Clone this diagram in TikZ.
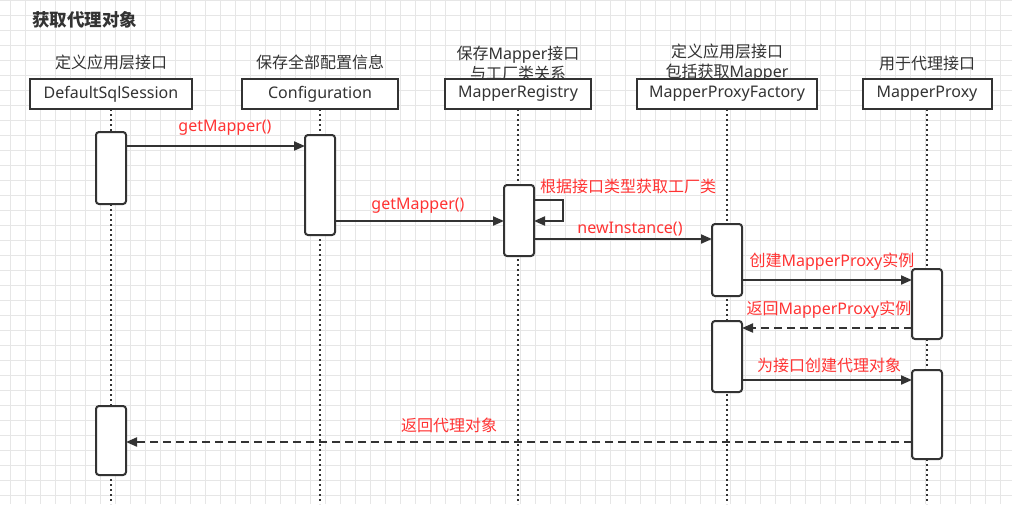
\documentclass[tikz,border=0pt]{standalone}
\usepackage{fontspec}
\setmainfont{Noto Sans}
\newfontfamily\cjk{Noto Sans CJK SC}
\usetikzlibrary{arrows.meta}
\definecolor{ink}{HTML}{333333}
\definecolor{lbl}{HTML}{FF3333}
\definecolor{gridc}{HTML}{E6E6E6}
\newcommand{\zh}[1]{{\cjk #1}}
\begin{document}
\begin{tikzpicture}[x=1pt,y=-1pt,
  every node/.style={inner sep=0pt, outer sep=0pt},
  gridline/.style={gridc, line width=1pt},
  lifeline/.style={ink, line width=1.8pt, dash pattern=on 2.4pt off 2.6pt},
  hdr/.style={draw=ink, line width=2pt, fill=white, minimum height=30pt, text=ink, font=\fontsize{16}{19}\selectfont},
  hlbl/.style={text=ink, font=\fontsize{16}{20}\selectfont, align=center},
  act/.style={draw=ink, line width=2pt, fill=white, rounded corners=3pt, minimum width=30pt},
  msg/.style={ink, line width=2pt, -{Triangle[length=11pt,width=9pt]}},
  ret/.style={msg, dash pattern=on 8pt off 5pt},
  mlbl/.style={text=lbl, font=\fontsize{16}{19}\selectfont},
]
\useasboundingbox (0,0) rectangle (1012,504);
\fill[white] (0,0) rectangle (1012,504);
\foreach \x in {10,25,...,1005} \draw[gridline] (\x,0) -- (\x,504);
\foreach \y in {0,15,...,495} \draw[gridline] (0,\y) -- (1012,\y);

% title
\node[anchor=west, text=ink, font=\cjk\bfseries\fontsize{17.5}{20}\selectfont] (title) at (32,20) {获取代理对象};

% header labels
\node[hlbl] (h1) at (111,62) {\zh{定义应用层接口}};
\node[hlbl] (h2) at (320,62) {\zh{保存全部配置信息}};
\node[hlbl] (h3) at (518,63) {\zh{保存}Mapper\zh{接口}\\\zh{与工厂类关系}};
\node[hlbl] (h4) at (727,62.5) {\zh{定义应用层接口}\\\zh{包括获取}Mapper};
\node[hlbl] (h5) at (927,63) {\zh{用于代理接口}};

% header boxes
\node[hdr, minimum width=162pt] (dss) at (111,94) {DefaultSqlSession};
\node[hdr, minimum width=156pt] (cfg) at (320,94) {Configuration};
\node[hdr, minimum width=146pt] (reg) at (518,94) {MapperRegistry};
\node[hdr, minimum width=180pt] (fac) at (727,94) {MapperProxyFactory};
\node[hdr, minimum width=129pt] (prx) at (927,94) {MapperProxy};

% lifelines
\foreach \n in {dss,cfg,reg,fac,prx}
  \draw[lifeline] (\n.south) -- (\n.south |- 0,504);

% activations
\node[act, minimum height=72pt] (a1) at (111,168) {};
\node[act, minimum height=69pt] (a2) at (111,440.5) {};
\node[act, minimum height=100pt] (c1) at (320,185) {};
\node[act, minimum height=71pt] (r1) at (519,220.5) {};
\node[act, minimum height=72pt] (f1) at (727,260) {};
\node[act, minimum height=71pt] (f2) at (727,356.5) {};
\node[act, minimum height=70pt] (p1) at (927,304) {};
\node[act, minimum height=89pt] (p2) at (927,414.5) {};

% messages
\draw[msg] (a1.east |- 0,146) -- (c1.west |- 0,146);
\draw[msg] (c1.east |- 0,221) -- (r1.west |- 0,221);
\coordinate (loop) at (563,210);
\draw[msg] (r1.east |- 0,200) -- (loop |- 0,200) -- (loop |- 0,221) -- (r1.east |- 0,221);
\draw[msg] (r1.east |- 0,239) -- (f1.west |- 0,239);
\draw[msg] (f1.east |- 0,280) -- (p1.west |- 0,280);
\draw[ret] (p1.west |- 0,328) -- (f2.east |- 0,328);
\draw[msg] (f2.east |- 0,380) -- (p2.west |- 0,380);
\draw[ret] (p2.west |- 0,442) -- (a2.east |- 0,442);

% message labels
\node[mlbl] (l1) at (225,128) {getMapper()};
\node[mlbl] (l2) at (418,206) {getMapper()};
\node[mlbl] (l3) at (628,186) {\zh{根据接口类型获取工厂类}};
\node[mlbl] (l4) at (630,229.5) {newInstance()};
\node[mlbl] (l5) at (832,262) {\zh{创建}MapperProxy\zh{实例}};
\node[mlbl] (l6) at (829,310) {\zh{返回}MapperProxy\zh{实例}};
\node[mlbl] (l7) at (829,365) {\zh{为接口创建代理对象}};
\node[mlbl] (l8) at (449,425) {\zh{返回代理对象}};
\end{tikzpicture}
\end{document}
